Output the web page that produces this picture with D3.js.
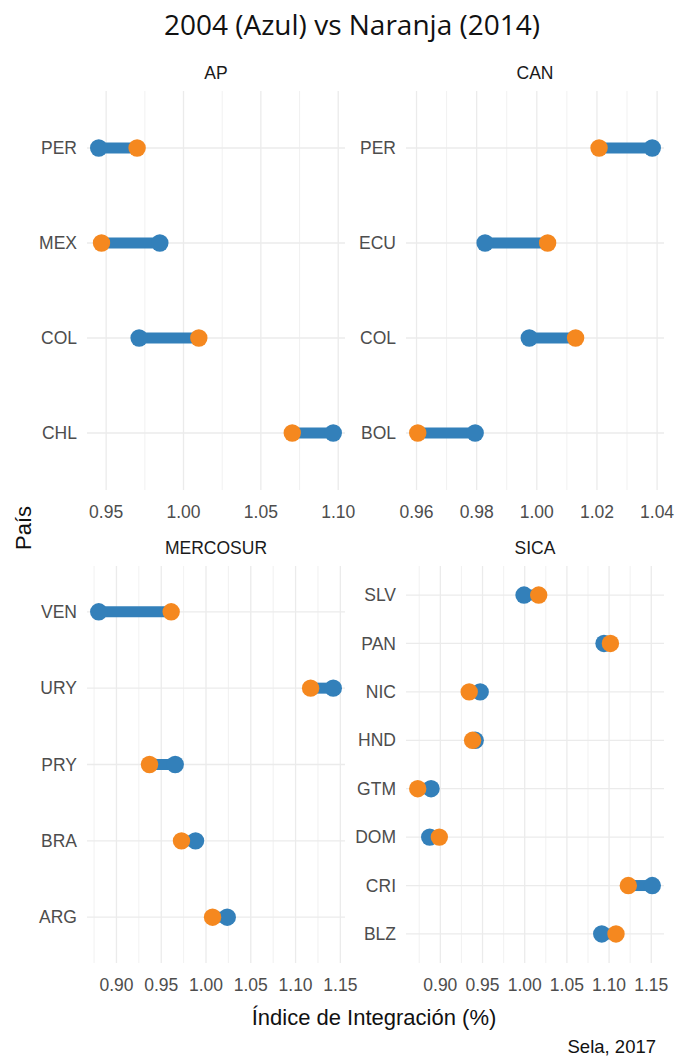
<!DOCTYPE html>
<html>
<head>
<meta charset="utf-8">
<script src="https://cdn.jsdelivr.net/npm/d3@7"></script>
<style>
  body { margin: 0; background: #fff; }
  svg { display: block; }
</style>
</head>
<body>
<svg id="chart" width="676" height="1059"></svg>
<script>
// Valores (2004 = azul, 2014 = naranja)
const apPaises = ["PER", "MEX", "COL", "CHL"];
const ap2004 = [0.9452, 0.9847, 0.9713, 1.0968];
const ap2014 = [0.9700, 0.9470, 1.0099, 1.0703];
const apTicks = [0.95, 1.00, 1.05, 1.10];

const canPaises = ["PER", "ECU", "COL", "BOL"];
const can2004 = [1.0384, 0.9828, 0.9975, 0.9795];
const can2014 = [1.0207, 1.0036, 1.0129, 0.9604];
const canTicks = [0.96, 0.98, 1.00, 1.02, 1.04];

const mercoPaises = ["VEN", "URY", "PRY", "BRA", "ARG"];
const merco2004 = [0.8802, 1.1421, 0.9656, 0.9883, 1.0237];
const merco2014 = [0.9611, 1.1168, 0.9369, 0.9726, 1.0073];
const mercoTicks = [0.90, 0.95, 1.00, 1.05, 1.10, 1.15];

const sicaPaises = ["SLV", "PAN", "NIC", "HND", "GTM", "DOM", "CRI", "BLZ"];
const sica2004 = [0.9992, 1.0940, 0.9472, 0.9413, 0.8890, 0.8874, 1.1512, 1.0913];
const sica2014 = [1.0166, 1.1016, 0.9342, 0.9382, 0.8732, 0.8988, 1.1228, 1.1082];
const sicaTicks = [0.90, 0.95, 1.00, 1.05, 1.10, 1.15];

const panels = [
  { name: "AP", paises: apPaises, v04: ap2004, v14: ap2014, ticks: apTicks, col: 0, row: 0 },
  { name: "CAN", paises: canPaises, v04: can2004, v14: can2014, ticks: canTicks, col: 1, row: 0 },
  { name: "MERCOSUR", paises: mercoPaises, v04: merco2004, v14: merco2014, ticks: mercoTicks, col: 0, row: 1 },
  { name: "SICA", paises: sicaPaises, v04: sica2004, v14: sica2014, ticks: sicaTicks, col: 1, row: 1 }
];

const azul = "#3380ba";
const naranja = "#f5881f";
const grid = "#ebebeb";
const tickColor = "#4d4d4d";
const sans = "'Liberation Sans', Arial, sans-serif";

const svg = d3.select("#chart");

// panel geometry (facet_wrap, free scales)
const colX = [[87, 345], [406, 664]];
const rowY = [[91, 490], [566, 963]];

// title
svg.append("text")
  .attr("x", 352).attr("y", 35)
  .attr("text-anchor", "middle")
  .style("font-family", "'Open Sans', 'Noto Sans', sans-serif")
  .style("font-size", "28px")
  .style("fill", "#111")
  .text("2004 (Azul) vs Naranja (2014)");

panels.forEach(p => {
  const [x0, x1] = colX[p.col];
  const [y0, y1] = rowY[p.row];
  const g = svg.append("g");

  const ext = d3.extent(p.v04.concat(p.v14));
  const pad = (ext[1] - ext[0]) * 0.05;
  const x = d3.scaleLinear().domain([ext[0] - pad, ext[1] + pad]).range([x0, x1]);
  const y = d3.scalePoint().domain(p.paises).range([y0, y1]).padding(0.6);

  // minor vertical grid lines (midpoints)
  const step = p.ticks[1] - p.ticks[0];
  const minors = [];
  p.ticks.forEach(t => {
    [t - step / 2, t + step / 2].forEach(m => {
      if (m >= x.domain()[0] && m <= x.domain()[1] && !minors.some(q => Math.abs(q - m) < 1e-9)) minors.push(m);
    });
  });
  g.selectAll(".minor").data(minors).join("line")
    .attr("x1", d => x(d)).attr("x2", d => x(d))
    .attr("y1", y0).attr("y2", y1)
    .attr("stroke", grid).attr("stroke-width", 0.7);

  g.selectAll(".major").data(p.ticks).join("line")
    .attr("x1", d => x(d)).attr("x2", d => x(d))
    .attr("y1", y0).attr("y2", y1)
    .attr("stroke", grid).attr("stroke-width", 1.3);

  g.selectAll(".hgrid").data(p.paises).join("line")
    .attr("x1", x0).attr("x2", x1)
    .attr("y1", d => y(d)).attr("y2", d => y(d))
    .attr("stroke", grid).attr("stroke-width", 1.3);

  // strip label
  g.append("text")
    .attr("x", (x0 + x1) / 2).attr("y", y0 - 12)
    .attr("text-anchor", "middle")
    .style("font-family", sans).style("font-size", "17.5px")
    .style("fill", "#1a1a1a")
    .text(p.name);

  // y tick labels
  g.selectAll(".ylab").data(p.paises).join("text")
    .attr("x", x0 - 10).attr("y", d => y(d))
    .attr("dy", "0.35em")
    .attr("text-anchor", "end")
    .style("font-family", sans).style("font-size", "17.5px")
    .style("fill", tickColor)
    .text(d => d);

  // x tick labels
  g.selectAll(".xlab").data(p.ticks).join("text")
    .attr("x", d => x(d)).attr("y", y1 + 28)
    .attr("text-anchor", "middle")
    .style("font-family", sans).style("font-size", "17.5px")
    .style("fill", tickColor)
    .text(d => d.toFixed(2));

  const rows = p.paises.map((c, i) => ({ pais: c, a: p.v04[i], b: p.v14[i] }));

  // dumbbell segment
  g.selectAll(".seg").data(rows).join("line")
    .attr("x1", d => x(d.a)).attr("x2", d => x(d.b))
    .attr("y1", d => y(d.pais)).attr("y2", d => y(d.pais))
    .attr("stroke", azul).attr("stroke-width", 11);

  g.selectAll(".p04").data(rows).join("circle")
    .attr("cx", d => x(d.a)).attr("cy", d => y(d.pais))
    .attr("r", 8.7).attr("fill", azul);

  g.selectAll(".p14").data(rows).join("circle")
    .attr("cx", d => x(d.b)).attr("cy", d => y(d.pais))
    .attr("r", 8.7).attr("fill", naranja);
});

// axis titles
svg.append("text")
  .attr("transform", "translate(31,528) rotate(-90)")
  .attr("text-anchor", "middle")
  .style("font-family", sans).style("font-size", "22px")
  .style("fill", "#111")
  .text("País");

svg.append("text")
  .attr("x", 374).attr("y", 1025)
  .attr("text-anchor", "middle")
  .style("font-family", sans).style("font-size", "22px")
  .style("fill", "#111")
  .text("Índice de Integración (%)");

svg.append("text")
  .attr("x", 656).attr("y", 1053)
  .attr("text-anchor", "end")
  .style("font-family", sans).style("font-size", "18.5px")
  .style("fill", "#111")
  .text("Sela, 2017");
</script>
</body>
</html>
